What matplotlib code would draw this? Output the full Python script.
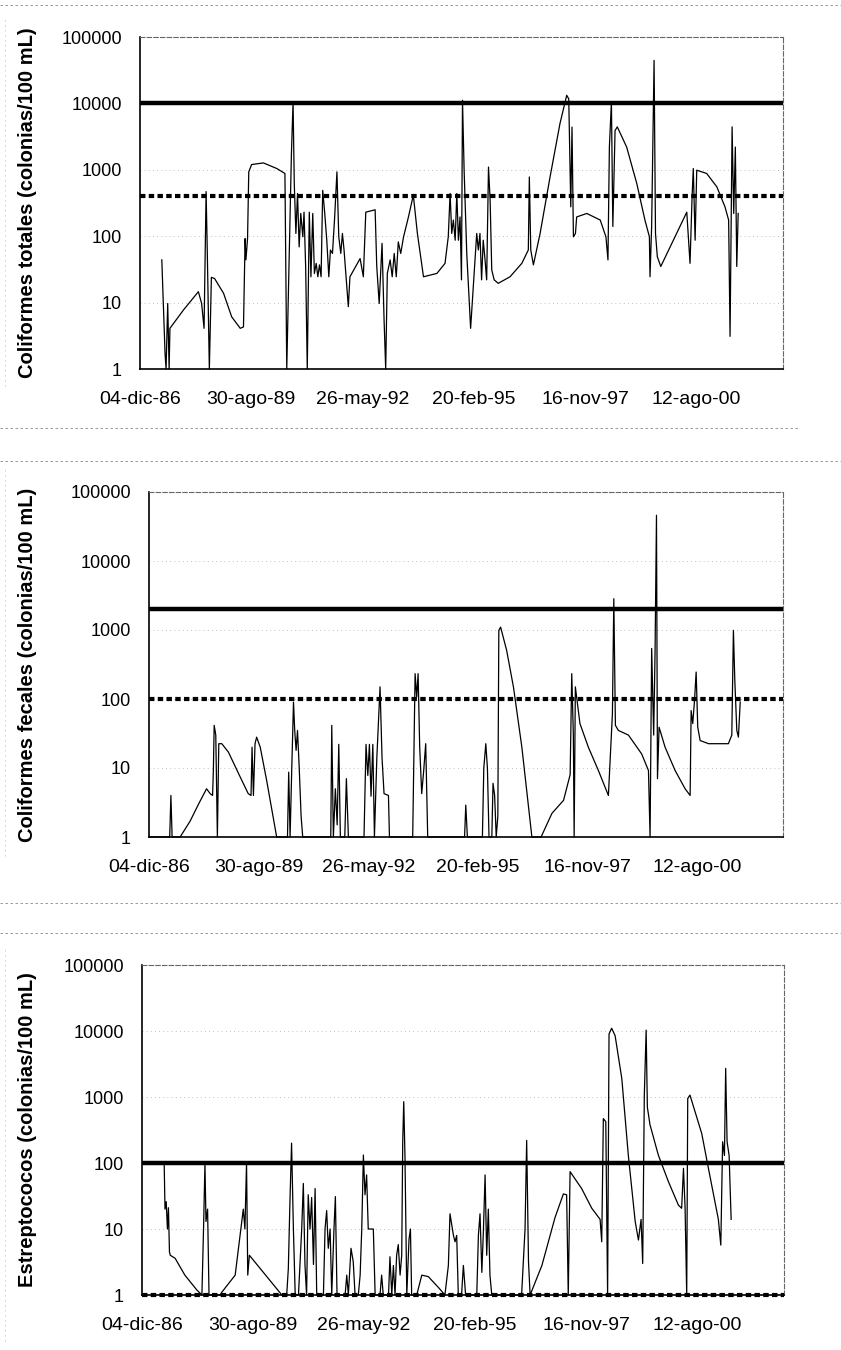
import numpy as np
import matplotlib.pyplot as plt
from matplotlib.lines import Line2D
from matplotlib.ticker import NullLocator

plt.rcParams['font.family'] = ['Liberation Sans', 'DejaVu Sans']

# marcas del eje x (cada 1000 dias, formato de Excel)
tick_dates = ['1986-12-04', '1989-08-30', '1992-05-26', '1995-02-20', '1997-11-16', '2000-08-12']
tick_labels = ['04-dic-86', '30-ago-89', '26-may-92', '20-feb-95', '16-nov-97', '12-ago-00']
x_end = '2002-10-01'

y_ticks = [1, 10, 100, 1000, 10000, 100000]
y_tick_labels = ['1', '10', '100', '1000', '10000', '100000']

# coliformes totales (fecha en anos decimales, colonias/100 mL)
tot_anio = [1987.46, 1987.54, 1987.565, 1987.605, 1987.64, 1987.66, 1987.99, 1988.36, 1988.44, 1988.50,
            1988.55, 1988.58, 1988.63, 1988.68, 1988.76, 1988.98, 1989.18, 1989.39, 1989.47, 1989.51,
            1989.53, 1989.57, 1989.60, 1989.67, 1989.96, 1990.29, 1990.49, 1990.535, 1990.65, 1990.69,
            1990.72, 1990.76, 1990.80, 1990.84, 1990.88, 1990.93, 1990.96, 1991.00, 1991.04, 1991.09,
            1991.13, 1991.175, 1991.215, 1991.26, 1991.30, 1991.34, 1991.38, 1991.42, 1991.47, 1991.52,
            1991.57, 1991.61, 1991.66, 1991.71, 1991.77, 1991.815, 1991.865, 1991.905, 1991.945, 1991.995,
            1992.05, 1992.09, 1992.34, 1992.42, 1992.48, 1992.71, 1992.75, 1992.81, 1992.88, 1992.93,
            1992.97, 1993.01, 1993.08, 1993.13, 1993.18, 1993.23, 1993.28, 1993.34, 1993.41, 1993.53,
            1993.65, 1993.75, 1993.90, 1994.23, 1994.43, 1994.51, 1994.555, 1994.595, 1994.635, 1994.68,
            1994.72, 1994.76, 1994.80, 1994.835, 1994.86, 1994.90, 1994.965, 1995.06, 1995.17, 1995.21,
            1995.25, 1995.29, 1995.33, 1995.37, 1995.415, 1995.455, 1995.50, 1995.54, 1995.58, 1995.64,
            1995.74, 1996.03, 1996.32, 1996.48, 1996.505, 1996.54, 1996.605, 1996.77, 1997.015, 1997.26,
            1997.425, 1997.475, 1997.525, 1997.555, 1997.59, 1997.64, 1997.67, 1997.92, 1998.25, 1998.39,
            1998.44, 1998.475, 1998.525, 1998.56, 1998.615, 1998.67, 1998.90, 1999.15, 1999.35, 1999.46,
            1999.475, 1999.515, 1999.575, 1999.61, 1999.655, 1999.74, 2000.13, 2000.38, 2000.46, 2000.51,
            2000.54, 2000.585, 2000.625, 2000.87, 2001.12, 2001.32, 2001.41, 2001.445, 2001.495, 2001.535,
            2001.575, 2001.61, 2001.645]
tot_val = [44, 1.7, 1, 9.7, 1, 4.1, 7.7, 14.6, 9.7, 4.1,
           470, 55, 1, 24, 23, 13.8, 6.1, 4.1, 4.3, 92,
           44, 92, 930, 1200, 1270, 1045, 880, 1, 1760, 10500,
           620, 110, 440, 69, 220, 98, 230, 35, 1, 230,
           24.5, 220, 27.5, 39, 24.5, 37, 24.5, 490, 220, 87,
           24.5, 62, 55, 175, 930, 98, 55, 110, 62, 24.5,
           8.7, 24.5, 46, 24.5, 230, 250, 35, 9.7, 78, 5.5,
           1, 27.5, 44, 24.5, 55, 24.5, 82, 55, 98, 195,
           415, 110, 24.5, 27.5, 39, 98, 440, 110, 175, 87,
           440, 87, 195, 22, 11150, 986, 55, 4.1, 44, 110,
           62, 110, 22, 87, 44, 22, 1100, 350, 31, 22,
           19.5, 24.5, 39, 62, 780, 62, 37, 110, 780, 5000,
           13250, 11700, 277, 4400, 98, 110, 195, 220, 175, 98,
           44, 2200, 10500, 140, 3900, 4430, 2200, 620, 175, 98,
           24.5, 140, 44500, 110, 49, 35, 110, 230, 39, 390,
           1045, 87, 986, 880, 553, 277, 175, 3.1, 4430, 220,
           2200, 35, 220]

# coliformes fecales
fec_anio = [1986.93, 1987.44, 1987.47, 1987.50, 1987.70, 1987.95, 1988.16, 1988.36, 1988.45, 1988.51,
            1988.53, 1988.55, 1988.59, 1988.63, 1988.665, 1988.74, 1988.905, 1989.20, 1989.40, 1989.47,
            1989.495, 1989.53, 1989.57, 1989.61, 1989.70, 1989.86, 1990.11, 1990.38, 1990.41, 1990.445,
            1990.485, 1990.53, 1990.56, 1990.595, 1990.63, 1990.67, 1990.72, 1990.76, 1991.46, 1991.485,
            1991.525, 1991.575, 1991.62, 1991.66, 1991.70, 1991.81, 1991.85, 1991.90, 1992.29, 1992.34,
            1992.385, 1992.425, 1992.465, 1992.51, 1992.55, 1992.61, 1992.69, 1992.74, 1992.79, 1992.90,
            1992.925, 1993.505, 1993.565, 1993.605, 1993.64, 1993.68, 1993.73, 1993.78, 1993.83, 1993.88,
            1994.80, 1994.83, 1994.87, 1995.245, 1995.28, 1995.33, 1995.37, 1995.41, 1995.48, 1995.51,
            1995.55, 1995.59, 1995.63, 1995.655, 1995.70, 1995.85, 1996.02, 1996.23, 1996.48, 1996.71,
            1996.98, 1997.27, 1997.435, 1997.475, 1997.515, 1997.535, 1997.565, 1997.68, 1997.89, 1998.14,
            1998.39, 1998.49, 1998.525, 1998.565, 1998.64, 1998.89, 1999.22, 1999.39, 1999.43, 1999.47,
            1999.52, 1999.555, 1999.59, 1999.615, 1999.655, 1999.805, 2000.055, 2000.305, 2000.43, 2000.455,
            2000.495, 2000.54, 2000.58, 2000.62, 2000.68, 2000.89, 2001.385, 2001.47, 2001.51, 2001.545,
            2001.595, 2001.635, 2001.68]
fec_val = [1, 1, 4, 1, 1, 1.7, 3.0, 5.0, 4.25, 4.0,
           9.2, 41.5, 30, 1, 22.5, 22.5, 17, 7.4, 4.25, 4.0,
           20, 4.0, 22.5, 28, 20, 6.6, 1, 1, 8.7, 1,
           9, 90, 35, 18, 35, 11, 2, 1, 1, 41.5,
           1, 5, 1.5, 22, 1, 1, 7, 1, 1, 22,
           7.8, 22, 3.9, 22, 1, 14, 150, 14, 4.25, 4.0,
           1, 1, 233, 107, 233, 20, 4.25, 9.2, 22.5, 1,
           1, 2.9, 1, 1, 10, 22.5, 10, 1, 1, 6,
           4, 1, 2, 990, 1100, 507, 149, 20, 1, 1,
           2.2, 3.4, 8, 233, 30, 1, 150, 44, 20, 9.2,
           4, 61, 2840, 41.5, 35, 30, 16, 9.2, 1, 540,
           30, 500, 46000, 7, 39, 20, 9.2, 5, 4, 68,
           44, 96, 246, 39, 25, 22.5, 22.5, 30, 990, 187,
           35, 28, 90]

# estreptococos
est_anio = [1987.47, 1987.49, 1987.52, 1987.55, 1987.575, 1987.60, 1987.62, 1987.74, 1987.98, 1988.27,
            1988.40, 1988.44, 1988.475, 1988.50, 1988.54, 1988.575, 1988.85, 1988.89, 1989.22, 1989.42,
            1989.46, 1989.50, 1989.53, 1989.57, 1990.37, 1990.49, 1990.53, 1990.57, 1990.61, 1990.655,
            1990.70, 1990.78, 1990.86, 1990.90, 1990.94, 1990.98, 1991.02, 1991.065, 1991.105, 1991.15,
            1991.19, 1991.23, 1991.395, 1991.435, 1991.475, 1991.515, 1991.56, 1991.60, 1991.655, 1991.69,
            1991.73, 1991.93, 1991.97, 1992.01, 1992.075, 1992.13, 1992.175, 1992.255, 1992.30, 1992.34,
            1992.38, 1992.42, 1992.46, 1992.50, 1992.625, 1992.67, 1992.79, 1992.83, 1992.87, 1993.00,
            1993.035, 1993.08, 1993.12, 1993.16, 1993.20, 1993.24, 1993.285, 1993.325, 1993.35, 1993.375,
            1993.405, 1993.45, 1993.505, 1993.54, 1993.57, 1993.695, 1993.82, 1993.98, 1994.23, 1994.39,
            1994.475, 1994.515, 1994.60, 1994.64, 1994.68, 1994.72, 1994.80, 1994.845, 1994.90, 1995.175,
            1995.215, 1995.255, 1995.30, 1995.34, 1995.38, 1995.42, 1995.46, 1995.50, 1995.545, 1996.28,
            1996.365, 1996.405, 1996.45, 1996.49, 1996.78, 1997.105, 1997.31, 1997.39, 1997.43, 1997.475,
            1997.76, 1998.01, 1998.215, 1998.255, 1998.295, 1998.355, 1998.40, 1998.435, 1998.50, 1998.585,
            1998.75, 1998.91, 1999.08, 1999.16, 1999.225, 1999.265, 1999.305, 1999.35, 1999.38, 1999.445,
            1999.65, 1999.90, 2000.145, 2000.225, 2000.27, 2000.31, 2000.35, 2000.375, 2000.43, 2000.555,
            2000.72, 2000.885, 2001.13, 2001.19, 2001.235, 2001.28, 2001.31, 2001.345, 2001.395, 2001.445]
est_val = [100, 20, 26, 10, 21, 4.5, 4, 3.6, 2.0, 1.2,
           1, 10, 100, 13, 20, 1, 1, 1.1, 2.0, 20,
           10, 100, 2.0, 4.0, 1, 1, 2.5, 26, 200, 10,
           1, 1, 10, 49, 2.9, 1, 33, 10, 30, 2.9,
           41, 1, 1, 10, 19, 5.1, 10, 1, 10, 31,
           1, 1, 2.0, 1, 5.1, 3.2, 1, 1, 2.0, 10,
           132, 33, 66, 10, 10, 1, 1, 2.0, 1, 1,
           3.8, 1, 2.8, 1, 4.0, 5.8, 2.0, 4.0, 210, 850,
           130, 1, 7, 10, 1, 1, 2.0, 1.9, 1.3, 1,
           2.8, 17, 8, 6.4, 8, 1, 1, 2.8, 1, 1,
           8, 17, 2.2, 10, 66, 4, 20, 2, 1, 1,
           10, 220, 3.2, 1, 2.8, 15, 34, 33, 1, 74,
           41, 20.6, 14, 6.4, 470, 423, 1, 9000, 11000, 8500,
           1900, 132, 13, 6.8, 14, 3, 1070, 10300, 700, 380,
           132, 52, 23, 20.6, 83, 20.6, 1, 950, 1070, 600,
           280, 83, 14, 5.7, 210, 130, 2720, 210, 130, 14]

# limites de referencia (continuo, punteado)
tot_lim = (10000, 400)
fec_lim = (2000, 100)
est_lim = (100, 1)


def dec_year(s):
    d = np.datetime64(s)
    y = d.astype('datetime64[Y]')
    start = y.astype('datetime64[D]')
    end = (y + 1).astype('datetime64[D]')
    return 1970 + y.astype(int) + (d - start) / (end - start)


x_ticks = [dec_year(s) for s in tick_dates]
x_min, x_max = x_ticks[0], dec_year(x_end)

W, H = 841, 1350
fig = plt.figure(figsize=(W / 100, H / 100), dpi=100)

# (izq, arriba, der, abajo) en pixeles
boxes = [(140, 37, 783, 369), (149, 492, 783, 837), (142, 965, 784, 1295)]
ylabels = ['Coliformes totales (colonias/100 mL)',
           'Coliformes fecales (colonias/100 mL)',
           'Estreptococos (colonias/100 mL)']
series = [(tot_anio, tot_val, tot_lim), (fec_anio, fec_val, fec_lim), (est_anio, est_val, est_lim)]

for (l, t, r, b), lab, (xs, ys, lim) in zip(boxes, ylabels, series):
    ax = fig.add_axes([l / W, 1 - b / H, (r - l) / W, (b - t) / H])
    ax.set_yscale('log')
    ax.set_ylim(1, 100000)
    ax.set_xlim(x_min, x_max)

    for v in y_ticks[1:-1]:
        ax.axhline(v, color='#aaaaaa', lw=0.6, ls=(0, (1, 4)), zorder=0)

    ax.plot(xs, ys, color='black', lw=0.9, clip_on=False, zorder=2)
    ax.axhline(lim[0], color='black', lw=3.2, zorder=3)
    ax.axhline(lim[1], color='black', lw=3.0, ls=(0, (1.3, 0.8)), clip_on=False, zorder=3)

    ax.set_yticks(y_ticks)
    ax.set_yticklabels(y_tick_labels, fontsize=13)
    ax.yaxis.set_minor_locator(NullLocator())
    ax.set_xticks(x_ticks)
    ax.set_xticklabels(tick_labels, fontsize=14)
    ax.tick_params(axis='y', length=0, pad=13)
    ax.tick_params(axis='x', length=0, pad=16)

    ax.set_ylabel(lab, fontsize=14.5, fontweight='bold')
    ax.yaxis.set_label_coords((37 - l) / (r - l), 0.5)

    for s in ['left', 'bottom']:
        ax.spines[s].set_linewidth(1.2)
    for s in ['top', 'right']:
        ax.spines[s].set_color('#666666')
        ax.spines[s].set_linewidth(0.8)
        ax.spines[s].set_linestyle((0, (4, 2)))

# restos del escaneo (lineas de separacion)
for yy, x0, x1 in [(5, 0, 841), (428, 0, 800), (461, 0, 841), (903, 0, 841), (933, 0, 841)]:
    fig.add_artist(Line2D([x0 / W, x1 / W], [1 - yy / H, 1 - yy / H], color='#888888', lw=0.6,
                          ls=(0, (3, 3))))
for y0, y1 in [(20, 390), (470, 860), (950, 1345)]:
    fig.add_artist(Line2D([5 / W, 5 / W], [1 - y0 / H, 1 - y1 / H], color='#999999', lw=0.6,
                          ls=(0, (1, 5))))

plt.savefig('out.png', dpi=100)
